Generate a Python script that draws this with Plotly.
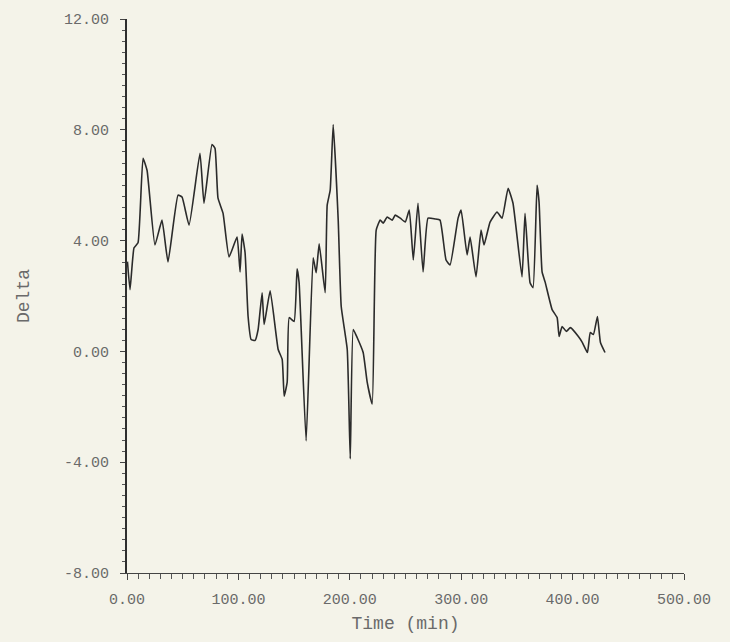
import plotly.graph_objects as go

# Elapsed time (min) and measured Delta
time_min = [
    0.4, 2.7, 6.3, 9.9, 14.4, 18.0, 25.1, 31.4, 36.8, 45.8,
    49.4, 55.7, 65.5, 69.1, 76.3, 79.0, 81.7, 86.2, 91.6, 98.8,
    101.5, 103.3, 106.0, 108.7, 111.4, 115.0, 117.7, 121.3, 123.1, 128.5,
    135.7, 139.3, 141.1, 143.8, 145.6, 150.0, 152.7, 154.5, 160.8, 167.1,
    169.8, 172.5, 177.9, 179.7, 182.4, 185.1, 189.6, 192.3, 197.7, 200.4,
    203.1, 206.6, 212.0, 215.6, 220.1, 223.7, 227.3, 230.0, 233.6, 238.1,
    240.8, 245.3, 249.8, 253.4, 257.0, 261.2, 265.8, 270.2, 276.5, 281.0,
    286.4, 290.0, 297.2, 299.9, 305.3, 308.0, 313.3, 317.8, 320.5, 325.9,
    332.2, 336.7, 342.1, 346.5, 354.6, 357.3, 361.8, 364.5, 368.1, 369.9,
    372.6, 375.3, 381.6, 386.1, 387.9, 390.6, 394.4, 398.0, 405.2, 408.8,
    413.3, 415.9, 418.7, 422.3, 425.0, 429.1,
]
delta = [
    3.24, 2.23, 3.74, 3.92, 6.97, 6.54, 3.84, 4.74, 3.23, 5.64,
    5.57, 4.56, 7.15, 5.35, 7.47, 7.33, 5.53, 4.99, 3.41, 4.13,
    2.87, 4.24, 3.56, 1.26, 0.43, 0.40, 0.79, 2.12, 0.97, 2.19,
    0.07, -0.29, -1.62, -1.11, 1.22, 1.08, 2.98, 2.48, -3.23, 3.38,
    2.84, 3.88, 2.12, 5.28, 5.82, 8.19, 4.74, 1.62, 0.07, -3.88,
    0.79, 0.50, -0.04, -1.11, -1.90, 4.38, 4.74, 4.63, 4.85, 4.74,
    4.92, 4.81, 4.67, 5.10, 3.30, 5.35, 2.87, 4.81, 4.78, 4.74,
    3.30, 3.12, 4.81, 5.10, 3.48, 4.13, 2.69, 4.38, 3.84, 4.67,
    5.03, 4.81, 5.89, 5.35, 2.69, 4.99, 2.48, 2.30, 6.00, 5.39,
    2.87, 2.51, 1.51, 1.22, 0.54, 0.90, 0.72, 0.86, 0.54, 0.32,
    -0.04, 0.68, 0.61, 1.26, 0.32, -0.04,
]

x_ticks = [0, 100, 200, 300, 400, 500]
x_labels = ["0.00", "100.00", "200.00", "300.00", "400.00", "500.00"]
y_ticks = [-8, -4, 0, 4, 8, 12]
y_labels = ["-8.00", "-4.00", "0.00", "4.00", "8.00", "12.00"]

paper = "#f4f3e9"
ink = "#2b2b2b"
label_grey = "#6a6a6a"
tick_font = dict(family="Liberation Mono", size=15, color=label_grey)
title_font = dict(family="Liberation Mono", size=18, color=label_grey)

fig = go.Figure(
    go.Scatter(
        x=time_min,
        y=delta,
        mode="lines",
        line=dict(color=ink, width=1.6, shape="spline", smoothing=0.4),
        hoverinfo="x+y",
    )
)

fig.update_layout(
    width=730,
    height=642,
    margin=dict(l=127, r=46, t=18, b=67),
    paper_bgcolor=paper,
    plot_bgcolor=paper,
    showlegend=False,
)

fig.update_xaxes(
    range=[0, 500],
    tickvals=x_ticks,
    ticktext=x_labels,
    tickfont=tick_font,
    ticks="outside",
    ticklen=6,
    tickwidth=1,
    tickcolor="#444444",
    ticklabelstandoff=6,
    minor=dict(dtick=10, ticks="outside", ticklen=5, tickcolor="#555555", tickwidth=1),
    showline=True,
    linecolor="#444444",
    linewidth=1,
    showgrid=False,
    zeroline=False,
    title=dict(text="Time (min)", font=title_font, standoff=8),
)

fig.update_yaxes(
    range=[-8, 12],
    tickvals=y_ticks,
    ticktext=y_labels,
    tickfont=tick_font,
    ticks="outside",
    ticklen=5,
    tickwidth=1,
    tickcolor="#444444",
    ticklabelstandoff=8,
    minor=dict(dtick=0.4, ticks="outside", ticklen=3, tickcolor="#555555", tickwidth=1),
    showline=True,
    linecolor="#2e2e2e",
    linewidth=2,
    showgrid=False,
    zeroline=False,
    title=dict(text="Delta", font=title_font, standoff=30),
)

fig.write_html("out.html")
